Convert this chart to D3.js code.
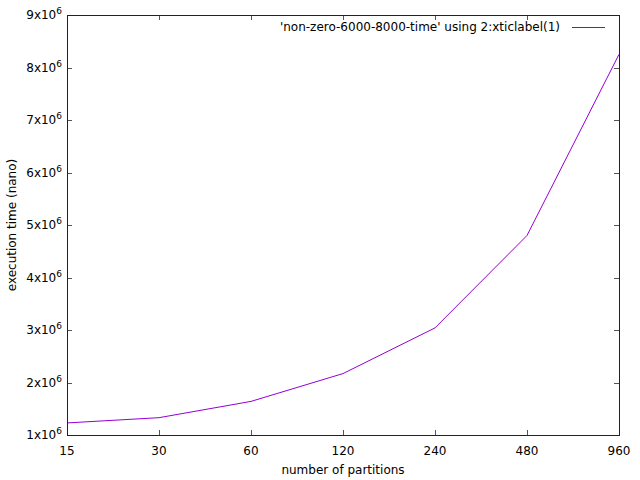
<!DOCTYPE html>
<html>
<head>
<meta charset="utf-8">
<script src="https://cdn.jsdelivr.net/npm/d3@7"></script>
<style>
  body { margin: 0; background: #fff; overflow: hidden; }
  svg { display: block; }
  text { font-family: "DejaVu Sans", sans-serif; font-size: 12px; fill: #000; }
</style>
</head>
<body>
<svg id="chart" width="640" height="480"></svg>
<script>
const partitions = ['15', '30', '60', '120', '240', '480', '960'];
const times = [1230000, 1330000, 1640000, 2170000, 3040000, 4800000, 8250000];
const yTicks = [1, 2, 3, 4, 5, 6, 7, 8, 9];
const seriesLabel = "'non-zero-6000-8000-time' using 2:xticlabel(1)";

const margin = { top: 15, right: 21, bottom: 45, left: 67 };
const width = 640;
const height = 480;
const innerWidth = width - margin.left - margin.right;
const innerHeight = height - margin.top - margin.bottom;

const svg = d3.select('#chart');
const g = svg.append('g')
  .attr('transform', `translate(${margin.left}, ${margin.top})`);

const x = d3.scalePoint()
  .domain(partitions)
  .range([0, innerWidth]);
const y = d3.scaleLinear()
  .domain([1e6, 9e6])
  .range([innerHeight, 0]);

// tick marks, mirrored on all sides
const tickLen = 5;
const ticks = g.append('g').attr('stroke', '#555').attr('stroke-width', 1);
partitions.forEach(p => {
  const px = Math.round(x(p)) + 0.5;
  ticks.append('line').attr('x1', px).attr('x2', px).attr('y1', innerHeight).attr('y2', innerHeight - tickLen);
  ticks.append('line').attr('x1', px).attr('x2', px).attr('y1', 0).attr('y2', tickLen);
});
yTicks.forEach(t => {
  const py = Math.round(y(t * 1e6)) + 0.5;
  ticks.append('line').attr('x1', 0).attr('x2', tickLen).attr('y1', py).attr('y2', py);
  ticks.append('line').attr('x1', innerWidth).attr('x2', innerWidth - tickLen).attr('y1', py).attr('y2', py);
});

// x labels
g.append('g').selectAll('text')
  .data(partitions)
  .enter().append('text')
    .attr('x', d => x(d))
    .attr('y', innerHeight + 20)
    .attr('text-anchor', 'middle')
    .text(d => d);

// y labels with superscript exponent
const yl = g.append('g').selectAll('text')
  .data(yTicks)
  .enter().append('text')
    .attr('x', -5)
    .attr('y', d => y(d * 1e6) + 4)
    .attr('text-anchor', 'end');
yl.append('tspan').text(d => `${d}x10`);
yl.append('tspan')
  .attr('dy', -5)
  .style('font-size', '9px')
  .text('6');

// line
const line = d3.line()
  .x((d, i) => x(partitions[i]))
  .y(d => y(d));
g.append('path')
  .datum(times)
  .attr('fill', 'none')
  .attr('stroke', '#9400d3')
  .attr('stroke-width', 1)
  .attr('d', line);

// border
g.append('rect')
  .attr('x', 0.5)
  .attr('y', 0.5)
  .attr('width', innerWidth)
  .attr('height', innerHeight)
  .attr('fill', 'none')
  .attr('stroke', '#222')
  .attr('stroke-width', 1);

// legend
g.append('text')
  .attr('x', innerWidth - 59)
  .attr('y', 16)
  .attr('text-anchor', 'end')
  .text(seriesLabel);
g.append('line')
  .attr('x1', innerWidth - 47)
  .attr('x2', innerWidth - 14)
  .attr('y1', 12.5)
  .attr('y2', 12.5)
  .attr('stroke', '#9400d3')
  .attr('stroke-width', 1);

// axis titles
svg.append('text')
  .attr('x', margin.left + innerWidth / 2)
  .attr('y', 474)
  .attr('text-anchor', 'middle')
  .text('number of partitions');
svg.append('text')
  .attr('transform', `translate(16, ${margin.top + innerHeight / 2}) rotate(-90)`)
  .attr('text-anchor', 'middle')
  .text('execution time (nano)');
</script>
</body>
</html>
